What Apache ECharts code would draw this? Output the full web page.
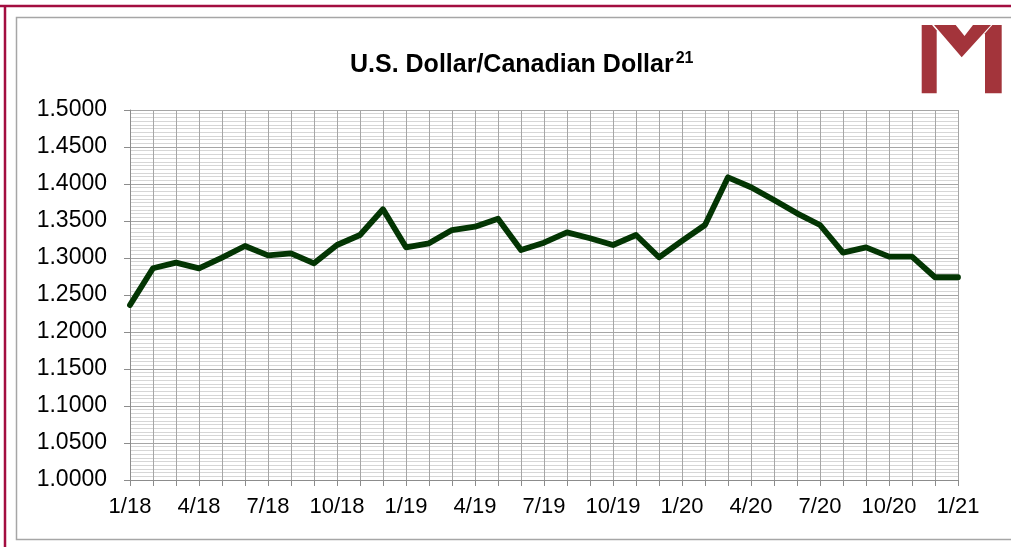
<!DOCTYPE html>
<html>
<head>
<meta charset="utf-8">
<script src="https://cdn.jsdelivr.net/npm/echarts@6/dist/echarts.min.js"></script>
<style>
html,body{margin:0;padding:0;background:#fff;}
#chart{width:1011px;height:547px;}
</style>
</head>
<body>
<div id="chart"></div>
<script>
const titleMain = 'U.S. Dollar/Canadian Dollar';
const titleSup = '21';
const categories = ['1/18','2/18','3/18','4/18','5/18','6/18','7/18','8/18','9/18','10/18','11/18','12/18',
  '1/19','2/19','3/19','4/19','5/19','6/19','7/19','8/19','9/19','10/19','11/19','12/19',
  '1/20','2/20','3/20','4/20','5/20','6/20','7/20','8/20','9/20','10/20','11/20','12/20','1/21'];
const usdCad = [1.2365,1.2861,1.2937,1.2860,1.3005,1.3162,1.3036,1.3063,1.2928,1.3176,1.3311,1.3658,
  1.3144,1.3198,1.3378,1.3423,1.3530,1.3108,1.3207,1.3347,1.3266,1.3176,1.3311,1.3010,
  1.3230,1.3446,1.4090,1.3956,1.3784,1.3604,1.3446,1.3072,1.3144,1.3018,1.3018,1.2740,1.2740];
const yMin = 1.0, yMax = 1.5, yStep = 0.05;

const chart = echarts.init(document.getElementById('chart'), null, {renderer:'canvas'});
const logoColor = '#a3343b';
const option = {
  backgroundColor:'#ffffff',
  animation:false,
  title:{
    left:345, top:46,
    text:'{a|' + titleMain + '}{b|' + titleSup + '}',
    textStyle:{
      rich:{
        a:{fontFamily:'Liberation Sans', fontWeight:'bold', fontSize:25, color:'#000'},
        b:{fontFamily:'Liberation Sans', fontWeight:'bold', fontSize:16, color:'#000', padding:[0,0,12,2]}
      }
    }
  },
  grid:{left:130, top:110, width:828, height:370, containLabel:false},
  xAxis:{
    type:'category',
    data:categories,
    boundaryGap:false,
    axisLine:{show:true, lineStyle:{color:'#8c8c8c', width:1}},
    axisTick:{show:true, interval:0, length:6, lineStyle:{color:'#8c8c8c'}},
    axisLabel:{interval:2, fontFamily:'Liberation Sans', fontSize:22, color:'#000', margin:16},
    splitLine:{show:true, interval:0, lineStyle:{color:'#a6a6a6', width:1}}
  },
  yAxis:{
    type:'value',
    min:yMin, max:yMax, interval:yStep,
    axisLine:{show:true, lineStyle:{color:'#8c8c8c', width:1}},
    axisTick:{show:true, length:6, lineStyle:{color:'#8c8c8c'}},
    axisLabel:{fontFamily:'Liberation Sans', fontSize:23, color:'#000', margin:23,
      formatter:function(v){return v.toFixed(4);}},
    splitLine:{show:true, lineStyle:{color:'#a6a6a6', width:1}},
    minorTick:{show:false, splitNumber:10},
    minorSplitLine:{show:true, lineStyle:{color:'#d6d6d6', width:1}}
  },
  series:[{
    type:'line',
    data:usdCad,
    symbol:'none',
    lineStyle:{color:'#033503', width:5.8, join:'round', cap:'round'},
    z:5
  }],
  graphic:[
    {type:'line', shape:{x1:0, y1:6, x2:1011, y2:6}, style:{stroke:'#a30d40', lineWidth:2.5}, silent:true},
    {type:'line', shape:{x1:5, y1:5, x2:5, y2:547}, style:{stroke:'#a30d40', lineWidth:2.5}, silent:true},
    {type:'rect', shape:{x:16.5, y:17.5, width:1010, height:522}, style:{fill:'none', stroke:'#a6a6a6', lineWidth:1.5}, silent:true},
    {type:'polygon', shape:{points:[[921.7,25],[932,25],[936.7,30.5],[936.7,93.3],[921.7,93.3]]}, style:{fill:logoColor}, silent:true},
    {type:'polygon', shape:{points:[[934,25],[955.7,25],[964.5,36],[973,25],[991,25],[961.7,57.3]]}, style:{fill:logoColor}, silent:true},
    {type:'polygon', shape:{points:[[992.3,25],[1001.7,25],[1001.7,93.3],[985,93.3],[985,33.3]]}, style:{fill:logoColor}, silent:true}
  ]
};
chart.setOption(option);
</script>
</body>
</html>
